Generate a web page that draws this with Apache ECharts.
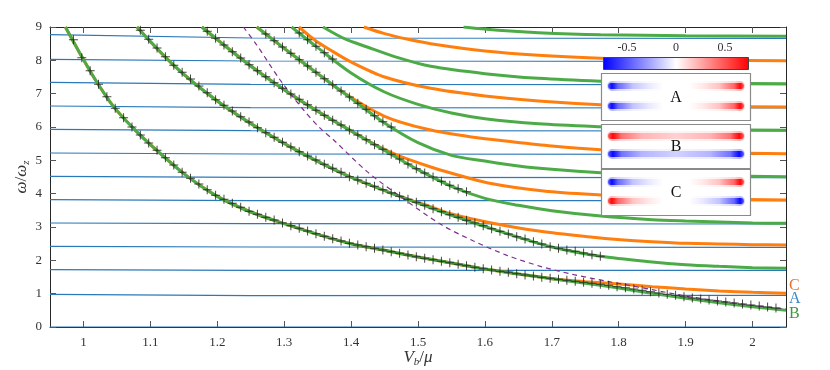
<!DOCTYPE html>
<html>
<head>
<meta charset="utf-8">
<script src="https://cdn.jsdelivr.net/npm/echarts@6/dist/echarts.min.js"></script>
<style>
html, body { margin: 0; padding: 0; background: #fff; }
#main { width: 830px; height: 370px; }
</style>
</head>
<body>
<div id="main"></div>
<script>
// axis ticks
var xTicks = [1, 1.1, 1.2, 1.3, 1.4, 1.5, 1.6, 1.7, 1.8, 1.9, 2];

// blue (almost flat) levels, sampled at blueX
var blueX = [0.95, 1.25, 2.05];
var b0 = [0, 0, 0];
var b1 = [0.98, 0.94, 0.95];
var b2 = [1.72, 1.70, 1.70];
var b3 = [2.42, 2.40, 2.39];
var b4 = [3.12, 3.10, 3.09];
var b5 = [3.82, 3.79, 3.79];
var b6 = [4.52, 4.49, 4.48];
var b7 = [5.22, 5.19, 5.18];
var b8 = [5.93, 5.89, 5.88];
var b9 = [6.63, 6.58, 6.57];
var b10 = [7.34, 7.28, 7.27];
var b11 = [8.03, 7.98, 7.97];
var b12 = [8.77, 8.67, 8.66];

// green branches [V, omega]
var g0 = [[0.973,9],[0.995,8.2],[1.018,7.41],[1.045,6.61],[1.075,5.95],[1.1,5.47],[1.15,4.6],[1.2,3.92],[1.25,3.45],[1.3,3.1],[1.35,2.78],[1.4,2.5],[1.45,2.3],[1.5,2.1],[1.55,1.92],[1.6,1.74],[1.65,1.59],[1.7,1.45],[1.75,1.31],[1.8,1.17],[1.85,1.01],[1.9,0.86],[1.95,0.73],[2.0,0.61],[2.05,0.5]];
var g2 = [[1.08,9],[1.135,7.85],[1.2,6.78],[1.264,5.93],[1.324,5.24],[1.399,4.5],[1.474,3.91],[1.549,3.36],[1.633,2.8],[1.7,2.4],[1.773,2.12],[1.85,1.95],[1.9,1.87],[1.95,1.82],[2.0,1.78],[2.05,1.76]];
var g4 = [[1.177,9],[1.2,8.62],[1.25,7.83],[1.3,7.12],[1.35,6.47],[1.4,5.88],[1.45,5.3],[1.5,4.72],[1.55,4.22],[1.6,3.86],[1.65,3.65],[1.7,3.49],[1.773,3.33],[1.85,3.22],[1.9,3.18],[1.95,3.15],[2.0,3.12],[2.05,3.11]];
var g6 = [[1.259,9],[1.3,8.36],[1.35,7.6],[1.4,6.86],[1.45,6.12],[1.5,5.53],[1.55,5.15],[1.6,4.98],[1.65,4.83],[1.7,4.73],[1.773,4.63],[1.85,4.57],[1.95,4.53],[2.05,4.51]];
var g8 = [[1.311,9],[1.35,8.38],[1.4,7.62],[1.45,7.05],[1.5,6.68],[1.55,6.42],[1.6,6.25],[1.68,6.1],[1.773,6.01],[1.85,5.96],[1.95,5.92],[2.05,5.9]];
var g10 = [[1.358,9],[1.39,8.65],[1.424,8.4],[1.47,8.08],[1.519,7.82],[1.6,7.6],[1.68,7.46],[1.773,7.37],[1.85,7.33],[1.95,7.31],[2.05,7.3]];
var g12 = [[1.568,9],[1.62,8.9],[1.68,8.83],[1.773,8.77],[1.9,8.74],[2.05,8.72]];

// orange branches [V, omega]
var o1 = [[0.973,9],[0.995,8.2],[1.018,7.41],[1.045,6.61],[1.075,5.95],[1.1,5.47],[1.15,4.6],[1.2,3.92],[1.25,3.45],[1.3,3.1],[1.35,2.78],[1.4,2.5],[1.45,2.3],[1.5,2.1],[1.55,1.92],[1.6,1.74],[1.65,1.59],[1.7,1.45],[1.75,1.36],[1.8,1.29],[1.85,1.21],[1.9,1.14],[1.95,1.08],[2.0,1.04],[2.05,1.01]];
var o3 = [[1.08,9],[1.135,7.85],[1.2,6.78],[1.264,5.93],[1.324,5.24],[1.399,4.5],[1.474,3.91],[1.52,3.6],[1.549,3.4],[1.608,3.13],[1.683,2.87],[1.758,2.7],[1.803,2.62],[1.85,2.56],[1.902,2.51],[1.95,2.49],[2.0,2.47],[2.05,2.46]];
var o5 = [[1.177,9],[1.2,8.62],[1.25,7.83],[1.3,7.12],[1.35,6.47],[1.4,5.88],[1.44,5.43],[1.47,5.15],[1.519,4.8],[1.549,4.62],[1.603,4.33],[1.688,4.08],[1.773,3.96],[1.85,3.89],[1.95,3.84],[2.05,3.81]];
var o7 = [[1.259,9],[1.3,8.36],[1.35,7.6],[1.39,7.01],[1.45,6.32],[1.514,5.93],[1.58,5.7],[1.643,5.55],[1.7,5.43],[1.773,5.32],[1.85,5.26],[1.95,5.22],[2.05,5.2]];
var o9 = [[1.322,9],[1.345,8.62],[1.369,8.31],[1.4,7.95],[1.45,7.5],[1.519,7.16],[1.6,6.93],[1.68,6.78],[1.773,6.67],[1.85,6.63],[1.95,6.61],[2.05,6.6]];
var o11 = [[1.419,9],[1.45,8.8],[1.485,8.63],[1.519,8.5],[1.6,8.28],[1.68,8.15],[1.773,8.06],[1.85,8.02],[1.95,8.0],[2.05,7.99]];

// purple dashed estimate
var purple = [[1.239,9],[1.259,8.46],[1.294,7.41],[1.329,6.51],[1.354,5.96],[1.374,5.61],[1.424,4.66],[1.474,3.91],[1.534,3.08],[1.583,2.58],[1.633,2.15],[1.683,1.82],[1.733,1.57],[1.783,1.37],[1.85,1.12],[1.9,0.93],[1.95,0.78],[2.0,0.65],[2.05,0.54]];

// numerical points (+), V grid and omega values
var plusX = [0.985,0.9975,1.01,1.0225,1.035,1.0475,1.06,1.0725,1.085,1.0975,1.11,1.1225,1.135,1.1475,1.16,1.1725,1.185,1.1975,1.21,1.2225,1.235,1.2475,1.26,1.2725,1.285,1.2975,1.31,1.3225,1.335,1.3475,1.36,1.3725,1.385,1.3975,1.41,1.4225,1.435,1.4475,1.46,1.4725,1.485,1.4975,1.51,1.5225,1.535,1.5475,1.56,1.5725,1.585,1.5975,1.61,1.6225,1.635,1.6475,1.66,1.6725,1.685,1.6975,1.71,1.7225,1.735,1.7475,1.76,1.7725,1.785,1.7975,1.81,1.8225,1.835,1.8475,1.86,1.8725,1.885,1.8975,1.91,1.9225,1.935,1.9475,1.96,1.9725,1.985,1.9975,2.01,2.0225,2.035];
var plus0 = [8.62,8.08,7.69,7.28,6.91,6.56,6.28,6.0,5.76,5.52,5.30,5.08,4.86,4.64,4.46,4.29,4.12,3.95,3.83,3.71,3.59,3.47,3.38,3.29,3.21,3.12,3.04,2.96,2.88,2.80,2.72,2.65,2.58,2.51,2.46,2.41,2.36,2.31,2.26,2.21,2.16,2.11,2.06,2.02,1.97,1.93,1.88,1.84,1.79,1.75,1.71,1.67,1.64,1.60,1.56,1.53,1.49,1.46,1.43,1.40,1.37,1.34,1.31,1.28,1.25,1.21,1.18,1.14,1.10,1.06,1.02,0.98,0.95,0.91,0.87,0.84,0.81,0.78,0.75,0.72,0.69,0.66,0.63,0.60,0.57];
var plus2 = [8.90,8.63,8.37,8.11,7.85,7.64,7.44,7.23,7.03,6.82,6.65,6.48,6.31,6.15,5.98,5.83,5.69,5.54,5.40,5.26,5.13,5.01,4.88,4.76,4.64,4.51,4.41,4.31,4.22,4.12,4.02,3.92,3.83,3.74,3.65,3.55,3.46,3.37,3.29,3.20,3.12,3.04,2.95,2.87,2.79,2.71,2.64,2.56,2.49,2.41,2.36,2.31,2.27,2.22,2.17,2.12];
var plus4 = [8.87,8.66,8.46,8.26,8.07,7.87,7.69,7.51,7.33,7.16,6.99,6.83,6.67,6.5,6.35,6.2,6.06,5.91,5.76,5.62,5.47,5.33,5.18,5.04,4.89,4.75,4.62,4.5,4.37,4.25,4.15,4.06];
var plus6 = [8.79,8.59,8.40,8.21,8.02,7.83,7.64,7.45,7.27,7.08,6.90,6.71,6.53,6.34,6.16,6.0];
var plus8 = [8.82,8.62,8.42,8.23,8.04];

var cBlue = '#2b79b9';
var cGreen = '#4dab47';
var cOrange = '#ff7f0e';
var serif = 'Liberation Serif';

var chart = echarts.init(document.getElementById('main'));

function pairs(xs, ys, start) {
    return ys.map(function (y, i) { return [xs[i + start], y]; });
}

var series = [];
[b0, b1, b2, b3, b4, b5, b6, b7, b8, b9, b10, b11, b12].forEach(function (b, i) {
    var s = {
        type: 'line', data: pairs(blueX, b, 0), showSymbol: false, silent: true, z: 2,
        lineStyle: { color: cBlue, width: 1.2 }
    };
    if (i === 1) {
        s.endLabel = { show: true, formatter: 'A', color: '#3a87c6', fontFamily: serif, fontSize: 16, distance: 3, offset: [0, 3] };
    }
    series.push(s);
});
[o1, o3, o5, o7, o9, o11].forEach(function (d, i) {
    var s = {
        type: 'line', data: d, showSymbol: false, silent: true, smooth: 0.3, z: 3,
        lineStyle: { color: cOrange, width: 3 }
    };
    if (i === 0) {
        s.endLabel = { show: true, formatter: 'C', color: '#ea7030', fontFamily: serif, fontSize: 16, distance: 3, offset: [0, -8] };
    }
    series.push(s);
});
[g0, g2, g4, g6, g8, g10, g12].forEach(function (d, i) {
    var s = {
        type: 'line', data: d, showSymbol: false, silent: true, smooth: 0.3, z: 4,
        lineStyle: { color: cGreen, width: 3 }
    };
    if (i === 0) {
        s.endLabel = { show: true, formatter: 'B', color: '#3c9a3a', fontFamily: serif, fontSize: 16, distance: 3, offset: [0, 3] };
    }
    series.push(s);
});
series.push({
    type: 'line', data: purple, showSymbol: false, silent: true, smooth: 0.3, z: 5,
    lineStyle: { color: '#7e2f8e', width: 1.2, type: [5, 4] }
});
var plusPath = 'path://M4.45,0H5.55V4.45H10V5.55H5.55V10H4.45V5.55H0V4.45H4.45Z';
[[plus0, 0], [plus2, 8], [plus4, 16], [plus6, 23], [plus8, 27]].forEach(function (p) {
    series.push({
        type: 'scatter', data: pairs(plusX, p[0], p[1]), symbol: plusPath, symbolSize: 9,
        silent: true, z: 6, itemStyle: { color: '#1a1a1a' }
    });
});

// inset: colour bar and three mode panels
function streak(x0, x1, yc, rgb, mode) {
    // mode: 'L' strong at left end, 'R' strong at right end, 'LR' both ends
    var stops;
    if (mode === 'L') {
        stops = [[0, 0.55], [0.07, 1], [0.18, 0.55], [0.45, 0.2], [0.75, 0.07], [1, 0]];
    } else if (mode === 'R') {
        stops = [[0, 0], [0.25, 0.07], [0.55, 0.2], [0.82, 0.55], [0.93, 1], [1, 0.55]];
    } else {
        stops = [[0, 0.55], [0.035, 1], [0.1, 0.5], [0.25, 0.25], [0.5, 0.15], [0.75, 0.25], [0.9, 0.5], [0.965, 1], [1, 0.55]];
    }
    function grad(k) {
        return {
            type: 'linear', x: 0, y: 0, x2: 1, y2: 0,
            colorStops: stops.map(function (s) {
                return { offset: s[0], color: 'rgba(' + rgb + ',' + (s[1] * k).toFixed(3) + ')' };
            })
        };
    }
    return [
        { type: 'rect', z: 101, shape: { x: x0, y: yc - 5, width: x1 - x0, height: 10, r: 5 }, style: { fill: grad(0.3) } },
        { type: 'rect', z: 102, shape: { x: x0 + 1, y: yc - 3, width: x1 - x0 - 2, height: 6, r: 3 }, style: { fill: grad(0.95) } }
    ];
}
var BLUE = '0,0,255', RED = '255,0,0';
var inset = [];
inset.push({
    type: 'rect', z: 100, shape: { x: 603.5, y: 57.5, width: 145, height: 12 },
    style: {
        stroke: '#444', lineWidth: 1,
        fill: { type: 'linear', x: 0, y: 0, x2: 1, y2: 0, colorStops: [{ offset: 0, color: '#0000ff' }, { offset: 0.5, color: '#ffffff' }, { offset: 1, color: '#ff0000' }] }
    }
});
[['-0.5', 627], ['0', 676], ['0.5', 725]].forEach(function (t) {
    inset.push({ type: 'text', z: 101, x: t[1], y: 48, style: { text: t[0], fill: '#333', font: '12px "Liberation Serif"', align: 'center', verticalAlign: 'middle' } });
});
var panels = [
    { y: 73, h: 47, label: 'A', rows: [[86, 'BL', 'RR'], [106, 'BL', 'RR']] },
    { y: 124, h: 44, label: 'B', rows: [[136, 'R2'], [154, 'B2']] },
    { y: 169, h: 46, label: 'C', rows: [[182, 'BL', 'RR'], [201, 'RL', 'BR']] }
];
panels.forEach(function (p) {
    inset.push({ type: 'rect', z: 100, shape: { x: 601.5, y: p.y + 0.5, width: 149, height: p.h }, style: { fill: '#fff', stroke: '#8a8a8a', lineWidth: 1.2 } });
    p.rows.forEach(function (r) {
        r.slice(1).forEach(function (code) {
            var rgb = code[0] === 'B' ? BLUE : RED;
            var els;
            if (code[1] === '2') els = streak(607, 745, r[0], rgb, 'LR');
            else if (code[1] === 'L') els = streak(607, 664, r[0], rgb, 'L');
            else els = streak(688, 745, r[0], rgb, 'R');
            inset.push.apply(inset, els);
        });
    });
    inset.push({ type: 'text', z: 103, x: 676, y: p.y + p.h / 2 + 1, style: { text: p.label, fill: '#111', font: '16px "Liberation Serif"', align: 'center', verticalAlign: 'middle' } });
});

var axisCol = '#262626';
var nameRich = {
    i: { fontFamily: serif, fontStyle: 'italic', fontSize: 17, color: '#333' },
    n: { fontFamily: serif, fontSize: 17, color: '#333' },
    s: { fontFamily: serif, fontStyle: 'italic', fontSize: 11, color: '#333', padding: [9, 0, 0, 0] }
};
var option = {
    animation: false,
    backgroundColor: '#fff',
    grid: { left: 50, right: 44, top: 27, bottom: 43, show: false, outerBoundsMode: 'none', containLabel: false },
    xAxis: [{
        type: 'value', min: 0.95, max: 2.05, position: 'bottom',
        axisLine: { show: true, onZero: false, lineStyle: { color: axisCol, width: 1 } },
        axisTick: { show: true, inside: true, length: 6, customValues: xTicks, lineStyle: { color: '#555' } },
        axisLabel: { customValues: xTicks, color: '#333', fontFamily: serif, fontSize: 13, margin: 9 },
        splitLine: { show: false },
        name: '{i|V}{s|b}{n|/}{i|μ}', nameLocation: 'middle', nameGap: 21, nameMoveOverlap: false,
        nameTextStyle: { rich: nameRich }
    }, {
        type: 'value', min: 0.95, max: 2.05, position: 'top',
        axisLine: { show: true, onZero: false, lineStyle: { color: axisCol, width: 1 } },
        axisTick: { show: true, inside: true, length: 6, customValues: xTicks, lineStyle: { color: '#555' } },
        axisLabel: { show: false }, splitLine: { show: false }
    }],
    yAxis: [{
        type: 'value', min: 0, max: 9, interval: 1,
        axisLine: { show: true, onZero: false, lineStyle: { color: axisCol, width: 1 } },
        axisTick: { show: true, inside: true, length: 6, lineStyle: { color: '#555' } },
        axisLabel: { color: '#333', fontFamily: serif, fontSize: 13, margin: 8 },
        splitLine: { show: false },
        name: '{i|ω}{n|/}{i|ω}{s|z}', nameLocation: 'middle', nameGap: 18, nameRotate: 90, nameMoveOverlap: false,
        nameTextStyle: { rich: nameRich }
    }, {
        type: 'value', min: 0, max: 9, interval: 1, position: 'right',
        axisLine: { show: true, onZero: false, lineStyle: { color: axisCol, width: 1 } },
        axisTick: { show: true, inside: true, length: 6, lineStyle: { color: '#555' } },
        axisLabel: { show: false }, splitLine: { show: false }
    }],
    series: series,
    graphic: inset
};
chart.setOption(option);
</script>
</body>
</html>
